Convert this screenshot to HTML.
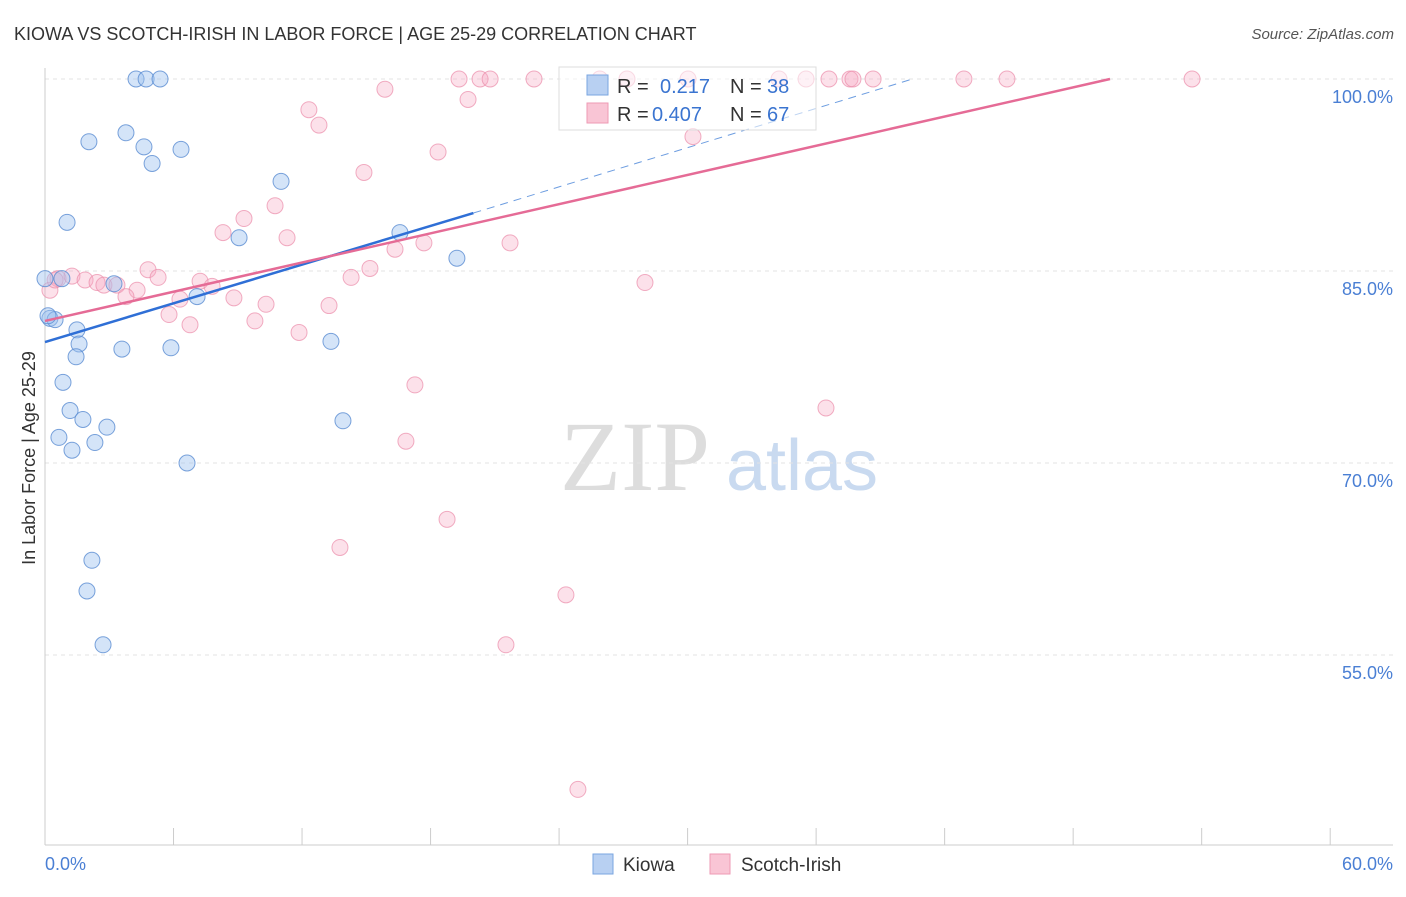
<!DOCTYPE html>
<html><head><meta charset="utf-8"><style>
body{margin:0;background:#fff;font-family:"Liberation Sans",sans-serif;}
svg text{font-family:"Liberation Sans",sans-serif;}
svg text.serif{font-family:"Liberation Serif",serif;}
</style></head><body>
<svg id="chart" width="1406" height="892">
<text x="14" y="40" font-size="18" fill="#333">KIOWA VS SCOTCH-IRISH IN LABOR FORCE | AGE 25-29 CORRELATION CHART</text>
<text x="1394" y="39" font-size="15" fill="#555" text-anchor="end" font-style="italic">Source: ZipAtlas.com</text>
<text x="35" y="458" font-size="18" fill="#333" text-anchor="middle" transform="rotate(-90 35 458)">In Labor Force | Age 25-29</text>
<g><text class="serif" x="635" y="490" font-size="100" fill="#ddd" text-anchor="middle">ZIP</text><text x="802" y="490" font-size="72" fill="#c9daf0" text-anchor="middle">atlas</text></g>
<g id="grid"></g><g id="axes"></g><g id="pts"></g><g id="trend"></g>
<g>
<rect x="559" y="67" width="257" height="63" fill="#fff" fill-opacity="0.55" stroke="#ddd"/>
<rect x="587" y="75" width="21" height="20" fill="#b8d0f2" stroke="#7aa6e0"/>
<rect x="587" y="103" width="21" height="20" fill="#f9c5d5" stroke="#ee9ab4"/>
<text x="617" y="93" font-size="20" fill="#333">R = </text><text x="660" y="93" font-size="20" fill="#3a74d0">0.217</text>
<text x="730" y="93" font-size="20" fill="#333">N = </text><text x="767" y="93" font-size="20" fill="#3a74d0">38</text>
<text x="617" y="121" font-size="20" fill="#333">R = </text><text x="652" y="121" font-size="20" fill="#3a74d0">0.407</text>
<text x="730" y="121" font-size="20" fill="#333">N = </text><text x="767" y="121" font-size="20" fill="#3a74d0">67</text>
</g>
<g>
<rect x="593" y="854" width="20" height="20" fill="#b8d0f2" stroke="#7aa6e0"/>
<text x="623" y="871" font-size="19" fill="#333">Kiowa</text>
<rect x="710" y="854" width="20" height="20" fill="#f9c5d5" stroke="#ee9ab4"/>
<text x="741" y="871" font-size="19" fill="#333">Scotch-Irish</text>
</g>
</svg>
<script>
const kiowaX=[4.25,4.72,5.37,2.05,3.78,4.62,5.0,6.35,1.03,11.02,9.06,16.57,19.23,0,0.79,3.22,7.10,0.23,0.47,1.49,1.59,1.45,3.59,5.88,13.35,0.84,1.17,1.77,2.89,0.65,2.33,1.26,6.63,13.91,2.19,1.96,2.71,0.14];
const kiowaY=[100,100,100,95.1,95.8,94.7,93.4,94.5,88.8,92.0,87.6,88.0,86.0,84.4,84.4,84.0,83.0,81.3,81.2,80.4,79.3,78.3,78.9,79.0,79.5,76.3,74.1,73.4,72.8,72.0,71.6,71.0,70.0,73.3,62.4,60.0,55.8,81.5];
const scotX=[15.87,12.32,12.79,19.75,19.33,20.31,20.78,22.83,27.17,30.02,34.27,35.53,36.6,37.58,37.72,38.66,42.9,44.91,53.55,30.25,18.35,14.89,10.74,9.29,8.31,11.3,21.71,17.69,16.34,4.81,5.28,15.17,14.29,0.61,1.26,1.87,2.43,2.75,3.36,4.3,3.78,7.24,7.8,6.3,8.82,10.32,13.26,5.79,9.8,6.77,11.86,28.01,17.27,36.46,16.85,18.77,13.77,24.32,21.52,24.88,0.23,0.47,25.9];
const scotY=[99.2,97.6,96.4,98.4,100,100,100,100,100,100,100,100,100,100,100,100,100,100,100,95.5,94.3,92.7,90.1,89.1,88.0,87.6,87.2,87.2,86.7,85.1,84.5,85.2,84.5,84.4,84.6,84.3,84.1,83.9,83.9,83.5,83.0,84.2,83.8,82.8,82.9,82.4,82.3,81.6,81.1,80.8,80.2,84.1,76.1,74.3,71.7,65.6,63.4,59.7,55.8,44.5,83.5,84.3,100];
const yTicks=[100,85,70,55];
const yTickLabels=["100.0%","85.0%","70.0%","55.0%"];
const kiowaTrendX=[0,20,40.5];const kiowaTrendY=[79.45,89.53,100];
const scotTrendX=[0,49.72];const scotTrendY=[81.1,100];
const NS="http://www.w3.org/2000/svg";
const sx=v=>45+v*21.42, sy=v=>79+(100-v)*12.8;
function mk(t,a,p){const e=document.createElementNS(NS,t);for(const k in a)e.setAttribute(k,a[k]);p.appendChild(e);return e;}
const grid=document.getElementById('grid'),axes=document.getElementById('axes'),pts=document.getElementById('pts'),tr=document.getElementById('trend');
yTicks.forEach((t,i)=>{
 const l=mk('line',{x1:45,x2:1393,y1:sy(t),y2:sy(t),stroke:'#e3e3e3','stroke-dasharray':'4,4'},grid);
 
 
 const tx=mk('text',{x:1393,y:sy(t)+24,'font-size':18,fill:'#4a7fd4','text-anchor':'end'},grid);tx.textContent=yTickLabels[i];
 
 
});
mk('line',{x1:45,x2:45,y1:68,y2:845,stroke:'#ccc'},axes);
mk('line',{x1:45,x2:1393,y1:845,y2:845,stroke:'#ccc'},axes);
for(let i=0;i<=10;i++){const l=mk('line',{x1:sx(i*6),x2:sx(i*6),y1:828,y2:845,stroke:'#ccc'},axes);
 
 }
let t0=mk('text',{x:45,y:870,'font-size':18,fill:'#4a7fd4'},axes);t0.textContent='0.0%';


let t1=mk('text',{x:1393,y:870,'font-size':18,fill:'#4a7fd4','text-anchor':'end'},axes);t1.textContent='60.0%';


scotX.forEach((x,i)=>{const c=mk('circle',{cx:sx(x),cy:sy(scotY[i]),r:8,fill:'rgba(246,170,195,0.35)',stroke:'rgba(235,140,170,0.7)'},pts);
 
 });
kiowaX.forEach((x,i)=>{const c=mk('circle',{cx:sx(x),cy:sy(kiowaY[i]),r:8,fill:'rgba(160,195,240,0.45)',stroke:'rgba(90,140,210,0.8)'},pts);
 
 });
let a=mk('line',{x1:sx(kiowaTrendX[0]),y1:sy(kiowaTrendY[0]),x2:sx(kiowaTrendX[1]),y2:sy(kiowaTrendY[1]),stroke:'#2f6fd6','stroke-width':2.5},tr);


let b=mk('line',{x1:sx(kiowaTrendX[1]),y1:sy(kiowaTrendY[1]),x2:sx(kiowaTrendX[2]),y2:sy(kiowaTrendY[2]),stroke:'#6d9de0','stroke-width':1,'stroke-dasharray':'8,6'},tr);


let c=mk('line',{x1:sx(scotTrendX[0]),y1:sy(scotTrendY[0]),x2:sx(scotTrendX[1]),y2:sy(scotTrendY[1]),stroke:'#e56b96','stroke-width':2.5},tr);


</script>
</body></html>
